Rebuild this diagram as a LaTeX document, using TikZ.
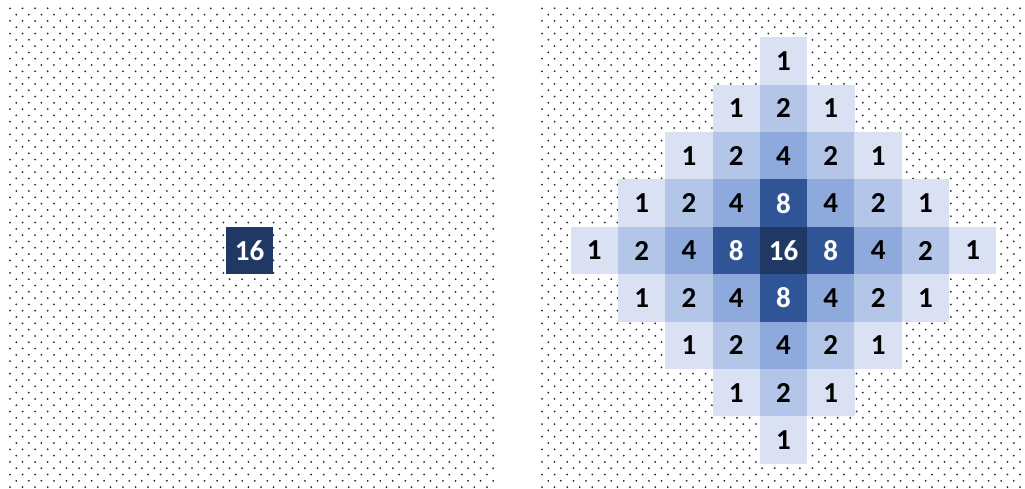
\documentclass[tikz,border=0pt]{standalone}
\usepackage{fontspec}
\setmainfont{Carlito}
\usepackage{tikz}
\usetikzlibrary{positioning}
\usepackage{xcolor}

\definecolor{lvlA}{HTML}{D9E1F2}
\definecolor{lvlB}{HTML}{B4C6E7}
\definecolor{lvlC}{HTML}{8EA9DB}
\definecolor{lvlD}{HTML}{2F5597}
\definecolor{lvlE}{HTML}{203864}

\begin{document}
\begin{tikzpicture}[x=1pt, y=-1pt,
      dot/.style={fill=black!85},
      cell/.style={minimum size=47.4pt, inner sep=0pt, outer sep=0pt,
          font=\fontsize{29}{33}\selectfont\bfseries},
      v1/.style={cell, fill=lvlA, text=black},
      v2/.style={cell, fill=lvlB, text=black},
      v4/.style={cell, fill=lvlC, text=black},
      v8/.style={cell, fill=lvlD, text=white},
      v16/.style={cell, fill=lvlE, text=white},
    ]

    \useasboundingbox[fill=white] (0,0) rectangle (1025,488);

    %% --- Dotted backgrounds ---
    \foreach \r in {0,...,76} {
        \pgfmathsetmacro\yy{8.3+6.3*\r}
        \pgfmathsetmacro\xo{mod(\r,2)*6.3}
        \foreach \c in {0,...,38}
          \fill[dot] ({10+\xo+12.55*\c},\yy) circle (1);
        \pgfmathtruncatemacro\nr{38-mod(\r,2)}
        \foreach \c in {0,...,\nr}
          \fill[dot] ({542+\xo+12.58*\c},\yy) circle (1);
      }

    %% --- Left panel: single source ---
    \node[v16] (src) at (249.5,250.5) {16};

    %% --- Right panel: spread out ---
    \foreach \i in {-4,...,4} {
        \foreach \j in {-4,...,4} {
            \pgfmathtruncatemacro\n{abs(\i)+abs(\j)}
            \ifnum\n<5
              \pgfmathtruncatemacro\v{2^(4-\n)}
              \node[v\v] (c\i\j) at ({783.5+47.3*\i},{250.5+47.4*\j}) {\v};
            \fi
          }
      }

  \end{tikzpicture}
\end{document}
